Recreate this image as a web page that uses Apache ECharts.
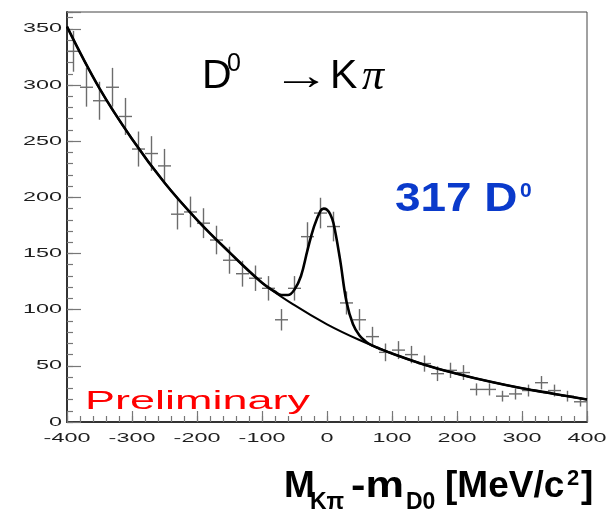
<!DOCTYPE html>
<html>
<head>
<meta charset="utf-8">
<script src="https://cdn.jsdelivr.net/npm/echarts@6.0.0/dist/echarts.min.js"></script>
<style>
  html, body { margin: 0; padding: 0; background: #ffffff; }
  #chart { width: 609px; height: 517px; }
</style>
</head>
<body>
<div id="chart"></div>
<script>
// M(Kpi) - m(D0) histogram, 20 MeV/c^2 bins
const binWidth = 20;
const binCenters = [
  -390, -370, -350, -330, -310, -290, -270, -250, -230, -210,
  -190, -170, -150, -130, -110, -90, -70, -50, -30, -10,
  10, 30, 50, 70, 90, 110, 130, 150, 170, 190,
  210, 230, 250, 270, 290, 310, 330, 350, 370, 390
];
const counts = [
  330, 298, 286, 298, 272, 243, 239, 228, 185, 187,
  177, 162, 144, 132, 128, 119, 91, 119, 165, 186,
  174, 106, 91, 76, 62, 64, 60, 52, 43, 46,
  44, 29, 29, 23, 25, 28, 35, 28, 23, 18
];

// Fitted curve: background + signal peak
const fitX = [-400, -350, -300, -250, -200, -150, -100, -80, -70, -60, -50, -40, -30, -20, -10, -5, 0, 5, 10, 20, 30, 40, 50, 60, 70, 80, 100, 150, 200, 250, 300, 350, 400];
const fitY = [352, 297, 252, 213, 180, 151, 124, 116, 113, 113, 118, 130, 153, 174, 188, 190, 189, 185, 177, 145, 107, 87, 77, 71.5, 68, 65.5, 61, 51, 43, 36, 30, 25, 20];

// Background component alone
const bkgX = [-400, -350, -300, -250, -200, -150, -100, -50, 0, 50, 100, 150, 200, 250, 300, 350, 400];
const bkgY = [352, 297, 252, 213, 180, 151, 124, 104, 87, 73, 61, 51, 43, 36, 30, 25, 20];

// Axis ranges and labelled ticks
const xMin = -400, xMax = 400;
const yMin = 0, yMax = 365;
const xTickValues = [-400, -300, -200, -100, 0, 100, 200, 300, 400];
const yTickValues = [0, 50, 100, 150, 200, 250, 300, 350];

const chart = echarts.init(document.getElementById('chart'), null, { renderer: 'canvas' });

const sans = '"Liberation Sans", Arial, sans-serif';
const labelFont = { fontSize: 13, fontFamily: sans };
const labelColor = '#1e1e1e';
const labelStretch = 1.8;
const tickColor = '#777777';

function toPairs(xs, ys) { return xs.map((x, i) => [x, ys[i]]); }

function crossItem(params, api) {
  const x = api.value(0), y = api.value(1);
  const err = Math.sqrt(y);
  const l = api.coord([x - binWidth / 2, y]);
  const r = api.coord([x + binWidth / 2, y]);
  const lo = api.coord([x, y - err]);
  const hi = api.coord([x, y + err]);
  const style = { stroke: '#6c6c6c', lineWidth: 1.4 };
  return {
    type: 'group',
    children: [
      { type: 'line', shape: { x1: l[0], y1: l[1], x2: r[0], y2: r[1] }, style },
      { type: 'line', shape: { x1: lo[0], y1: lo[1], x2: hi[0], y2: hi[1] }, style }
    ]
  };
}

function xLabelItem(params, api) {
  const v = api.value(0);
  const p = api.coord([v, yMin]);
  return {
    type: 'text', x: p[0], y: p[1] + 16, scaleX: labelStretch,
    style: Object.assign({ text: String(v), fill: labelColor, align: 'center', verticalAlign: 'middle' }, labelFont)
  };
}

function yLabelItem(params, api) {
  const v = api.value(1);
  const p = api.coord([xMin, v]);
  return {
    type: 'text', x: p[0] - 5, y: p[1], scaleX: labelStretch,
    style: Object.assign({ text: String(v), fill: labelColor, align: 'right', verticalAlign: 'middle' }, labelFont)
  };
}

function valueAxis(min, max, interval, len, showLine, position) {
  return {
    type: 'value', min, max, interval, position,
    axisLine: { show: showLine, onZero: false, lineStyle: { color: '#333333', width: 2 } },
    axisTick: { show: true, inside: true, length: len, lineStyle: { color: tickColor, width: 1.2 } },
    axisLabel: { show: false },
    splitLine: { show: false }
  };
}

function label(text, x, y, opts) {
  const o = opts || {};
  return {
    type: 'text', x, y, scaleX: o.scaleX || 1, silent: true,
    style: {
      text, fill: o.fill || '#000', fontSize: o.size, fontWeight: o.weight || 'normal',
      fontStyle: o.style || 'normal', fontFamily: o.family || sans,
      align: 'left', verticalAlign: 'middle'
    }
  };
}

const option = {
  animation: false,
  backgroundColor: '#ffffff',
  grid: { left: 67, right: 22, top: 12, bottom: 95, show: true, borderColor: '#444444', borderWidth: 1, backgroundColor: 'transparent' },
  xAxis: [
    valueAxis(xMin, xMax, 20, 6, true, 'bottom'),
    valueAxis(xMin, xMax, 100, 11, false, 'bottom')
  ],
  yAxis: [
    valueAxis(yMin, yMax, 10, 6, true, 'left'),
    valueAxis(yMin, yMax, 50, 14, false, 'left')
  ],
  series: [
    {
      name: 'data', type: 'custom', silent: true, z: 3,
      renderItem: crossItem,
      data: toPairs(binCenters, counts)
    },
    {
      name: 'background', type: 'line', silent: true, z: 4,
      data: toPairs(bkgX, bkgY),
      smooth: 0.4, showSymbol: false, symbol: 'none',
      lineStyle: { color: '#000000', width: 2 }
    },
    {
      name: 'fit', type: 'line', silent: true, z: 5,
      data: toPairs(fitX, fitY),
      smooth: 0.4, showSymbol: false, symbol: 'none',
      lineStyle: { color: '#000000', width: 2.6 }
    },
    {
      name: 'xLabels', type: 'custom', silent: true, z: 6,
      renderItem: xLabelItem,
      data: xTickValues.map(v => [v, yMin])
    },
    {
      name: 'yLabels', type: 'custom', silent: true, z: 6,
      renderItem: yLabelItem,
      data: yTickValues.map(v => [xMin, v])
    }
  ],
  graphic: {
    elements: [
      // decay channel
      label('D', 202, 77, { size: 41 }),
      label('0', 227, 64, { size: 25 }),
      label('\u2192', 272, 78, { size: 40, scaleX: 1.45 }),
      label('K', 330, 77, { size: 41 }),
      label('\u03c0', 362, 77, { size: 44, style: 'italic', family: '"Liberation Serif", serif' }),
      // signal yield
      label('317 D', 395, 200, { size: 41, weight: 'bold', fill: '#0a3acb', scaleX: 1.12 }),
      label('0', 520, 191, { size: 21, weight: 'bold', fill: '#0a3acb' }),
      // status stamp
      label('Preliminary', 85, 402, { size: 25, fill: '#ff0000', scaleX: 1.8 }),
      // x-axis title
      label('M', 284, 487, { size: 37, weight: 'bold' }),
      label('K\u03c0', 310, 503, { size: 23, weight: 'bold' }),
      label('-m', 351, 487, { size: 37, weight: 'bold', scaleX: 1.17 }),
      label('D0', 406, 503, { size: 23, weight: 'bold' }),
      label('[MeV/c', 445, 487, { size: 37, weight: 'bold' }),
      label('2', 567, 479, { size: 22, weight: 'bold' }),
      label(']', 581, 487, { size: 37, weight: 'bold' })
    ]
  }
};

chart.setOption(option);
</script>
</body>
</html>
